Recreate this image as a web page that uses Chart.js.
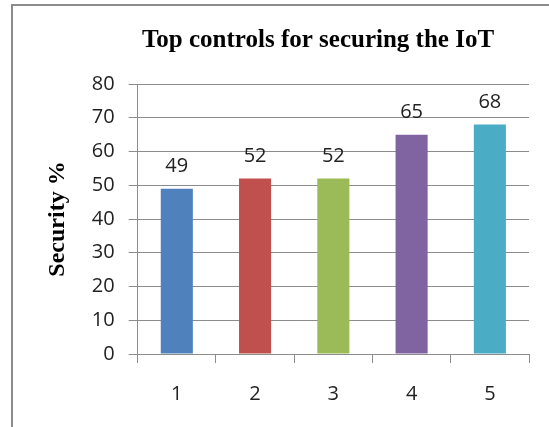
<!DOCTYPE html>
<html>
<head>
<meta charset="utf-8">
<script src="https://cdn.jsdelivr.net/npm/chart.js@4/dist/chart.umd.min.js"></script>
<style>
  html, body { margin: 0; padding: 0; background: #fff; }
  #wrap { width: 549px; height: 427px; position: relative; }
</style>
</head>
<body>
<div id="wrap"><canvas id="chart" width="549" height="427"></canvas></div>
<script>
// chart data
const categories = ['1', '2', '3', '4', '5'];
const security = [49, 52, 52, 65, 68];
const barColors = ['#4F81BD', '#C0504D', '#9BBB59', '#8064A2', '#4BACC6'];
const yTicks = [0, 10, 20, 30, 40, 50, 60, 70, 80];

const chartTitle = 'Top controls for securing the IoT';
const yTitle = 'Security %';

// frame + title drawn on the canvas
const framePlugin = {
  id: 'frame',
  beforeDraw(chart) {
    const c = chart.ctx;
    c.save();
    c.strokeStyle = '#8c8c8c';
    c.lineWidth = 2;
    c.strokeRect(12, 5, 600, 500);
    c.restore();
  },
  afterDraw(chart) {
    const c = chart.ctx;
    c.save();
    c.fillStyle = '#000';
    c.font = 'bold 25px "Liberation Serif"';
    c.textAlign = 'center';
    c.textBaseline = 'middle';
    c.fillText(chartTitle, 318, 41);
    c.restore();
  }
};

// value labels above each bar
const valueLabels = {
  id: 'valueLabels',
  afterDatasetsDraw(chart) {
    const c = chart.ctx;
    const meta = chart.getDatasetMeta(0);
    c.save();
    c.fillStyle = '#222';
    c.font = '20px "Open Sans"';
    c.textAlign = 'center';
    c.textBaseline = 'alphabetic';
    meta.data.forEach((bar, i) => {
      c.fillText(String(security[i]), bar.x, bar.y - 17);
    });
    c.restore();
  }
};

new Chart(document.getElementById('chart').getContext('2d'), {
  type: 'bar',
  data: {
    labels: categories,
    datasets: [{
      data: security,
      backgroundColor: barColors,
      barPercentage: 0.41,
      categoryPercentage: 1
    }]
  },
  options: {
    responsive: false,
    animation: false,
    layout: { padding: { top: 84, right: 20, bottom: 2, left: 43 } },
    plugins: {
      legend: { display: false },
      title: { display: false },
      tooltip: { enabled: false }
    },
    scales: {
      x: {
        grid: { drawOnChartArea: false, drawTicks: true, tickLength: 9, tickColor: '#8c8c8c', offset: true },
        border: { color: '#8c8c8c', width: 1 },
        ticks: { color: '#222', font: { family: 'Open Sans', size: 20 }, padding: 19 }
      },
      y: {
        min: 0,
        max: 80,
        afterBuildTicks(scale) { scale.ticks = yTicks.map(v => ({ value: v })); },
        grid: { color: '#8c8c8c', tickLength: 9, tickColor: '#8c8c8c' },
        border: { color: '#8c8c8c', width: 1 },
        ticks: { color: '#222', font: { family: 'Open Sans', size: 20 }, padding: 14 },
        title: {
          display: true,
          text: yTitle,
          color: '#000',
          font: { family: 'Liberation Serif', size: 24, weight: 'bold' },
          padding: { top: 0, bottom: 6 }
        }
      }
    }
  },
  plugins: [framePlugin, valueLabels]
});
</script>
</body>
</html>
